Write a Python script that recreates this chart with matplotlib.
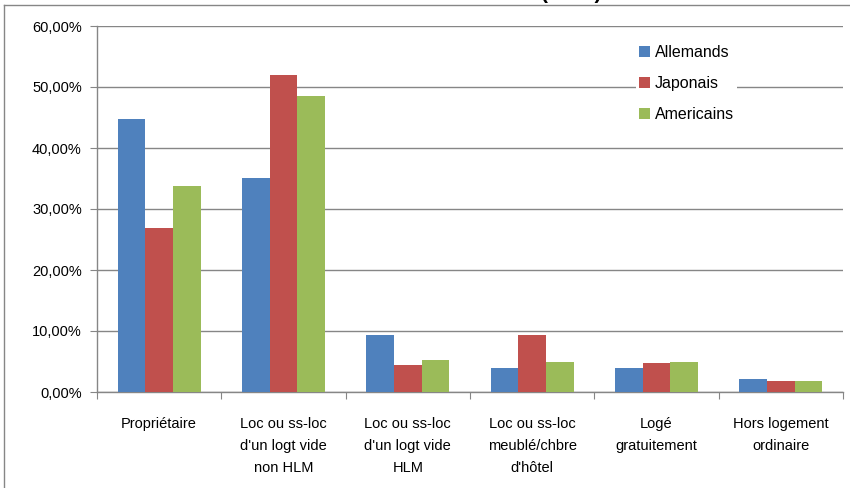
import matplotlib
matplotlib.use("Agg")
import matplotlib.pyplot as plt
import numpy as np
from matplotlib.lines import Line2D

categories = ["Propriétaire",
              "Loc ou ss-loc\nd'un logt vide\nnon HLM",
              "Loc ou ss-loc\nd'un logt vide\nHLM",
              "Loc ou ss-loc\nmeublé/chbre\nd'hôtel",
              "Logé\ngratuitement",
              "Hors logement\nordinaire"]
series_names = ["Allemands", "Japonais", "Americains"]
allemands = [44.8, 35.1, 9.4, 4.0, 4.0, 2.2]
japonais = [26.9, 51.9, 4.5, 9.4, 4.8, 1.8]
americains = [33.7, 48.5, 5.3, 5.0, 5.0, 1.8]
colors = ["#4F81BD", "#C0504D", "#9BBB59"]
yticks = [0, 10, 20, 30, 40, 50, 60]

plt.rcParams['font.family'] = ['Liberation Sans', 'DejaVu Sans']

fig = plt.figure(figsize=(8.5, 4.88), dpi=100)
ax = fig.add_axes([97/850, 1-392/488, (843-97)/850, (392-26)/488])

x = np.arange(len(categories))
w = 1/4.5
for i, (vals, name) in enumerate(zip([allemands, japonais, americains], series_names)):
    ax.bar(x + (i-1)*w, vals, width=w, color=colors[i], label=name, zorder=3)

ax.set_xlim(-0.5, len(categories)-0.5)
ax.set_ylim(0, 60)
ax.set_yticks(yticks)
ax.set_yticklabels([f"{v:.2f}%".replace('.', ',') for v in yticks], fontsize=10.5)
ax.yaxis.grid(True, color="#868686", linewidth=1, zorder=0)
ax.set_axisbelow(True)

ax.set_xticks(np.arange(len(categories)+1)-0.5)
ax.set_xticklabels([])
ax.set_xticks(x, minor=True)
ax.set_xticklabels(categories, minor=True, fontsize=10.5, linespacing=1.75, va='top')
ax.tick_params(axis='x', which='minor', length=0, pad=18)
ax.tick_params(axis='x', which='major', length=5, color="#868686", direction='out')
ax.tick_params(axis='y', length=5, color="#868686", pad=6)

for s in ['top', 'right']:
    ax.spines[s].set_visible(False)
for s in ['left', 'bottom']:
    ax.spines[s].set_color("#868686")
    ax.spines[s].set_linewidth(1)

leg = ax.legend(loc='upper left', bbox_to_anchor=((636-97)/746, 1-(42-26)/366),
                frameon=True, fontsize=11.5, handlelength=0.7, handleheight=0.7,
                handletextpad=0.3, labelspacing=1.0, borderpad=0.2, borderaxespad=0)
leg.get_frame().set_edgecolor('none')
leg.get_frame().set_facecolor('white')
leg.get_frame().set_alpha(1)

# outer chart border
fig.add_artist(Line2D([4/850, 4/850], [0, 1-5/488], color="#868686", lw=1, transform=fig.transFigure))
fig.add_artist(Line2D([4/850, 1], [1-5/488, 1-5/488], color="#868686", lw=1, transform=fig.transFigure))

# title mostly cut off at top
fig.text(571/850, 1+1/488, "(2006)", ha='center', va='baseline', fontsize=15, fontweight='bold')

fig.savefig("out.png", dpi=100)
